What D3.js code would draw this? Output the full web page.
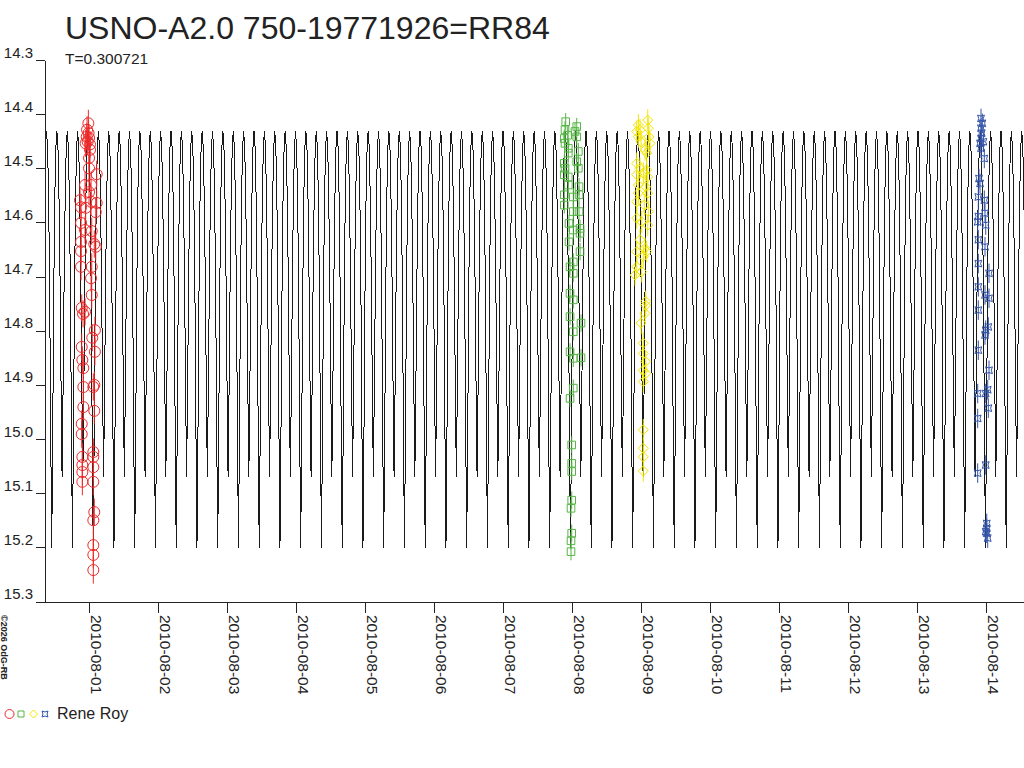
<!DOCTYPE html>
<html>
<head>
<meta charset="utf-8">
<script src="https://cdn.jsdelivr.net/npm/d3@7"></script>
<style>
  body { margin: 0; background: #fff; }
  svg { display: block; font-family: "Liberation Sans", Arial, sans-serif; }
</style>
</head>
<body>
<div id="chart"></div>
<script>
// ================================
// Data (times are JD - 2455400, magnitudes)
// ================================
const JD0 = 2455400;
const period = 0.300721;
const epochMin = 8.955;   // a deep minimum of the model

// one period of the model light curve
const modelPhase = [0, 0.05, 0.10, 0.15, 0.20, 0.25, 0.30, 0.35, 0.40, 0.45, 0.50,
                    0.55, 0.60, 0.65, 0.70, 0.75, 0.80, 0.85, 0.90, 0.95, 1.00];
const modelMag   = [15.20, 14.98, 14.72, 14.55, 14.46, 14.43, 14.46, 14.55, 14.70, 14.90, 15.07,
                    14.90, 14.70, 14.55, 14.46, 14.43, 14.46, 14.55, 14.72, 14.98, 15.20];

const yTicks = [14.3, 14.4, 14.5, 14.6, 14.7, 14.8, 14.9, 15.0, 15.1, 15.2, 15.3];

// observations: [time, mag]
const obsRed = [
  [9.486, 14.416], [9.467, 14.428], [9.489, 14.434], [9.462, 14.441], [9.496, 14.443],
  [9.476, 14.450], [9.447, 14.453], [9.510, 14.455], [9.510, 14.465], [9.496, 14.480],
  [9.496, 14.499], [9.607, 14.510], [9.438, 14.530], [9.525, 14.530], [9.496, 14.543],
  [9.365, 14.558], [9.380, 14.571], [9.525, 14.561], [9.607, 14.563], [9.593, 14.580],
  [9.447, 14.572], [9.380, 14.600], [9.438, 14.613], [9.535, 14.615], [9.380, 14.635],
  [9.572, 14.639], [9.593, 14.644], [9.380, 14.652], [9.380, 14.681], [9.535, 14.681],
  [9.525, 14.702], [9.535, 14.733], [9.390, 14.757], [9.438, 14.764], [9.409, 14.768],
  [9.581, 14.798], [9.543, 14.812], [9.390, 14.829], [9.581, 14.838], [9.399, 14.853],
  [9.413, 14.868], [9.572, 14.899], [9.413, 14.903], [9.558, 14.903], [9.413, 14.940],
  [9.572, 14.947], [9.390, 14.971], [9.390, 14.990], [9.399, 15.032], [9.558, 15.023],
  [9.558, 15.032], [9.399, 15.047], [9.558, 15.051], [9.399, 15.060], [9.399, 15.078],
  [9.558, 15.078], [9.572, 15.134], [9.558, 15.149], [9.558, 15.195], [9.558, 15.213],
  [9.558, 15.241]
];
const obsGreen = [
  [16.404, 14.413], [16.564, 14.422], [16.394, 14.428], [16.539, 14.431], [16.433, 14.438],
  [16.384, 14.444], [16.564, 14.441], [16.394, 14.453], [16.442, 14.462], [16.587, 14.468],
  [16.442, 14.471], [16.384, 14.490], [16.564, 14.487], [16.587, 14.499], [16.394, 14.499],
  [16.384, 14.511], [16.442, 14.515], [16.442, 14.530], [16.597, 14.533], [16.384, 14.548],
  [16.514, 14.552], [16.597, 14.548], [16.384, 14.567], [16.514, 14.579], [16.597, 14.579],
  [16.452, 14.601], [16.514, 14.613], [16.612, 14.610], [16.612, 14.619], [16.452, 14.635],
  [16.612, 14.653], [16.514, 14.672], [16.467, 14.681], [16.514, 14.693], [16.467, 14.730],
  [16.514, 14.742], [16.467, 14.773], [16.626, 14.785], [16.514, 14.801], [16.467, 14.838],
  [16.514, 14.850], [16.626, 14.849], [16.514, 14.905], [16.467, 14.924], [16.491, 15.010],
  [16.491, 15.044], [16.491, 15.059], [16.491, 15.112], [16.481, 15.127], [16.491, 15.173],
  [16.481, 15.187], [16.481, 15.207]
];
const obsYellow = [
  [17.457, 14.419], [17.593, 14.410], [17.433, 14.431], [17.481, 14.428], [17.601, 14.425],
  [17.457, 14.441], [17.611, 14.441], [17.496, 14.450], [17.626, 14.453], [17.554, 14.465],
  [17.578, 14.471], [17.433, 14.490], [17.481, 14.499], [17.578, 14.502], [17.433, 14.511],
  [17.529, 14.508], [17.593, 14.515], [17.457, 14.530], [17.564, 14.533], [17.457, 14.545],
  [17.593, 14.545], [17.433, 14.561], [17.543, 14.567], [17.601, 14.579], [17.433, 14.591],
  [17.506, 14.598], [17.593, 14.604], [17.481, 14.631], [17.433, 14.653], [17.554, 14.647],
  [17.578, 14.653], [17.529, 14.662], [17.433, 14.681], [17.409, 14.696], [17.506, 14.690],
  [17.564, 14.745], [17.564, 14.752], [17.554, 14.767], [17.496, 14.785], [17.529, 14.822],
  [17.529, 14.841], [17.564, 14.856], [17.529, 14.872], [17.564, 14.878], [17.529, 14.893],
  [17.529, 14.982], [17.529, 15.016], [17.529, 15.032], [17.529, 15.058]
];
const obsBlue = [
  [22.423, 14.407], [22.442, 14.416], [22.423, 14.425], [22.433, 14.434], [22.423, 14.444],
  [22.409, 14.453], [22.457, 14.450], [22.423, 14.462], [22.471, 14.481], [22.394, 14.518],
  [22.409, 14.527], [22.384, 14.552], [22.471, 14.558], [22.481, 14.582], [22.384, 14.588],
  [22.375, 14.598], [22.491, 14.604], [22.384, 14.631], [22.481, 14.644], [22.384, 14.675],
  [22.539, 14.693], [22.384, 14.718], [22.481, 14.733], [22.539, 14.739], [22.384, 14.761],
  [22.529, 14.792], [22.491, 14.798], [22.481, 14.807], [22.384, 14.835], [22.539, 14.872],
  [22.375, 14.915], [22.520, 14.908], [22.491, 14.915], [22.529, 14.942], [22.375, 14.961],
  [22.491, 15.047], [22.375, 15.062], [22.506, 15.155], [22.506, 15.164], [22.506, 15.173],
  [22.520, 15.182], [22.491, 15.170]
];

// error bar half-lengths (mag)
const errRed = 0.025, errGreen = 0.016, errYellow = 0.02, errBlue = 0.018;

// ================================
// Layout
// ================================
const W = 1024, H = 768;
const plot = { left: 45.3, right: 1024, top: 60.5, bottom: 602 };
const xStart = 8.862, xEnd = 23.046;   // visible JD range (JD - 2455400)

const toDate = t => new Date((t + JD0 - 2440587.5) * 86400000);

const svg = d3.select('#chart').append('svg')
  .attr('width', W)
  .attr('height', H);

const x = d3.scaleUtc()
  .domain([toDate(xStart), toDate(xEnd)])
  .range([plot.left, plot.right]);

const y = d3.scaleLinear()
  .domain([14.3, 15.3])
  .range([plot.top, plot.bottom]);

const textColor = '#222';

// Title
svg.append('text')
  .attr('x', 65)
  .attr('y', 39)
  .attr('fill', textColor)
  .attr('font-size', '32px')
  .text('USNO-A2.0 750-19771926=RR84');

svg.append('text')
  .attr('x', 65)
  .attr('y', 64)
  .attr('fill', textColor)
  .attr('font-size', '15.5px')
  .text('T=' + period);

// ================================
// Model light curve
// ================================
svg.append('clipPath').attr('id', 'plotClip')
  .append('rect')
  .attr('x', plot.left)
  .attr('y', 0)
  .attr('width', plot.right - plot.left)
  .attr('height', H);

const modelPts = [];
const kFirst = Math.floor((xStart - epochMin) / period) - 1;
const kLast = Math.ceil((xEnd - epochMin) / period) + 1;
for (let k = kFirst; k <= kLast; k++) {
  modelPhase.forEach((p, i) => {
    if (i === 0 && k !== kFirst) return;
    modelPts.push({ t: epochMin + (k + p) * period, mag: modelMag[i] });
  });
}

const line = d3.line()
  .x(d => x(toDate(d.t)))
  .y(d => y(d.mag));

svg.append('path')
  .datum(modelPts)
  .attr('clip-path', 'url(#plotClip)')
  .attr('fill', 'none')
  .attr('stroke', '#1a1a1a')
  .attr('stroke-width', 1)
  .attr('shape-rendering', 'crispEdges')
  .attr('d', line);

// ================================
// Axes
// ================================
const axisColor = '#222';

// y axis
const yAxis = svg.append('g');
yAxis.append('line')
  .attr('x1', plot.left).attr('x2', plot.left)
  .attr('y1', plot.top).attr('y2', plot.bottom)
  .attr('stroke', axisColor)
  .attr('shape-rendering', 'crispEdges');

yTicks.forEach(v => {
  yAxis.append('line')
    .attr('x1', 36).attr('x2', plot.left)
    .attr('y1', y(v)).attr('y2', y(v))
    .attr('stroke', axisColor)
    .attr('shape-rendering', 'crispEdges');
  yAxis.append('text')
    .attr('x', 33)
    .attr('y', y(v) - 3)
    .attr('text-anchor', 'end')
    .attr('fill', textColor)
    .attr('font-size', '15px')
    .text(d3.format('.1f')(v));
});

// x axis
const xAxis = svg.append('g');
xAxis.append('line')
  .attr('x1', 36).attr('x2', plot.right)
  .attr('y1', plot.bottom).attr('y2', plot.bottom)
  .attr('stroke', axisColor)
  .attr('shape-rendering', 'crispEdges');

const dayTicks = x.ticks(d3.utcDay.every(1));
dayTicks.forEach(d => {
  const px = x(d);
  xAxis.append('line')
    .attr('x1', px).attr('x2', px)
    .attr('y1', plot.bottom).attr('y2', plot.bottom + 11)
    .attr('stroke', axisColor)
    .attr('shape-rendering', 'crispEdges');
  xAxis.append('text')
    .attr('transform', `translate(${px + 2},615) rotate(90)`)
    .attr('fill', textColor)
    .attr('font-size', '15.5px')
    .text(d3.utcFormat('%Y-%m-%d')(d));
});

// ================================
// Observations
// ================================
const diamond = s => `M0,${-s}L${s},0L0,${s}L${-s},0Z`;
const square = s => `M${-s},${-s}H${s}V${s}H${-s}Z`;
const astroid = s => `M${-s},${-s}Q0,${-s * 0.35} ${s},${-s}Q${s * 0.35},0 ${s},${s}` +
                     `Q0,${s * 0.35} ${-s},${s}Q${-s * 0.35},0 ${-s},${-s}Z`;

function drawSeries(data, err, color, marker) {
  const g = svg.append('g');
  data.forEach(([t, mag]) => {
    const cx = x(toDate(t));
    g.append('line')
      .attr('x1', cx).attr('x2', cx)
      .attr('y1', y(mag - err)).attr('y2', y(mag + err))
      .attr('stroke', color)
      .attr('stroke-width', 1);
    if (marker === 'circle') {
      g.append('circle')
        .attr('cx', cx).attr('cy', y(mag)).attr('r', 5.5)
        .attr('fill', 'none').attr('stroke', color);
    } else {
      g.append('path')
        .attr('transform', `translate(${cx},${y(mag)})`)
        .attr('d', marker)
        .attr('fill', 'none').attr('stroke', color);
    }
  });
}

const cRed = '#ee2a2a', cGreen = '#55b545', cYellow = '#f2e600', cBlue = '#3454a8';
drawSeries(obsRed, errRed, cRed, 'circle');
drawSeries(obsGreen, errGreen, cGreen, square(3.8));
drawSeries(obsYellow, errYellow, cYellow, diamond(5));
drawSeries(obsBlue, errBlue, cBlue, astroid(3.4));

// ================================
// Legend and credit
// ================================
const legend = svg.append('g').attr('transform', 'translate(0,714)');
legend.append('circle').attr('cx', 9.5).attr('cy', 0).attr('r', 4.5)
  .attr('fill', 'none').attr('stroke', cRed);
legend.append('path').attr('transform', 'translate(21,0)').attr('d', square(3))
  .attr('fill', 'none').attr('stroke', cGreen);
legend.append('path').attr('transform', 'translate(33.5,0)').attr('d', diamond(4))
  .attr('fill', 'none').attr('stroke', cYellow);
legend.append('path').attr('transform', 'translate(45,0)').attr('d', astroid(3))
  .attr('fill', 'none').attr('stroke', cBlue);
legend.append('text')
  .attr('x', 57)
  .attr('y', 5)
  .attr('fill', textColor)
  .attr('font-size', '16px')
  .text('Rene Roy');

svg.append('text')
  .attr('transform', 'translate(1,615) rotate(90)')
  .attr('fill', textColor)
  .attr('font-size', '9px')
  .attr('font-weight', 'bold')
  .text('©2026 OdG-RB');
</script>
</body>
</html>
